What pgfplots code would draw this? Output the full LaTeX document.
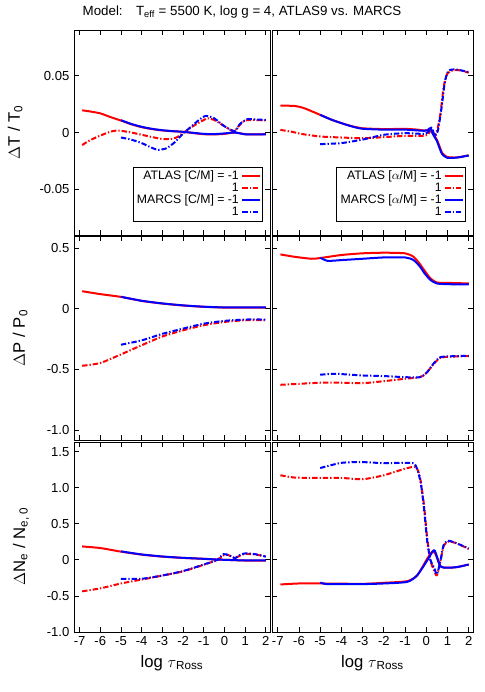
\documentclass[border=0pt]{standalone}
\usepackage{pgfplots}
\pgfplotsset{compat=1.18}
\usepackage{fontspec}
\setmainfont{Liberation Sans}

\pgfplotsset{
  panel/.style={
    scale only axis,
    xmin=-7.27, xmax=2.2,
    xtick={-7,-6,...,2},
    scaled ticks=false,
    tick align=inside,
    xtick pos=both, ytick pos=both,
    major tick length=4pt,
    tick style={black, line width=0.6pt},
    axis line style={line width=0.7pt},
    tick label style={font=\fontsize{9.8}{11}\selectfont},
    label style={font=\fontsize{12.5}{14}\selectfont},
    /pgf/number format/assume math mode=true,
    every axis plot/.append style={smooth, tension=0.4, line join=round},
  },
  atm/.style={red, line width=1.5pt},
  atp/.style={red, line width=1.5pt, dash pattern=on 4pt off 1.5pt on 1pt off 1.5pt},
  mam/.style={blue, line width=1.5pt},
  map/.style={blue, line width=1.5pt, dash pattern=on 4pt off 1.5pt on 1pt off 1.5pt},
  leg/.style={
    legend plot pos=right,
    legend cell align=right,
    legend style={at={(axis description cs:0.962,0.063)}, anchor=south east,
      font=\fontsize{9.2}{9.2}\selectfont, draw=black, line width=0.6pt,
      inner sep=1pt, row sep=-3pt},
    legend image code/.code={\draw[##1, sharp plot] (0pt,0pt) -- (13pt,0pt);},
  },
}

\begin{document}
\begin{tikzpicture}
\path[use as bounding box] (0pt,0pt) rectangle (363.75pt,-519pt);
\node[font=\fontsize{10}{11}\selectfont] at (181.5pt,-9pt)
  {Model:\quad T\textsubscript{eff} = 5500 K, log g = 4, ATLAS9 vs. MARCS};

% ---- Delta T, [C/M]
\begin{axis}[panel, leg, at={(55.5pt,-22.5pt)}, anchor=north west,
  width=147pt, height=153.75pt,
  ymin=-0.09, ymax=0.09, ytick={-0.05,0,0.05}, yticklabels={-0.05,0,0.05},
  xticklabels={},
  ylabel={$\Delta$T / T\textsubscript{0}},
  ylabel style={at={(axis description cs:-0.30,0.5)}, anchor=center}]
\addplot[atm] coordinates {(-6.875,0.0195) (-6.5,0.0185) (-6,0.0168) (-5.5,0.0135) (-5,0.0105) (-4.5,0.0072) (-4,0.0047) (-3.5,0.003) (-3,0.0018) (-2.5,0.0011) (-2,0.0006) (-1.5,-0.0005) (-1,-0.0015) (-0.5,-0.0017) (0,-0.0012) (0.5,0) (1,-0.0015) (1.5,-0.0016) (2,-0.0015)};
\addplot[atp] coordinates {(-6.875,-0.011) (-6.5,-0.0068) (-6,-0.0027) (-5.5,0.0008) (-5.2,0.0017) (-5,0.0015) (-4.5,0) (-4,-0.002) (-3.5,-0.004) (-3,-0.0057) (-2.6,-0.0058) (-2.3,-0.0042) (-2,-0.0005) (-1.5,0.0058) (-1.0,0.011) (-0.8,0.0125) (-0.5,0.011) (0,0.0055) (0.45,0.001) (0.7,0.006) (1,0.0105) (1.5,0.011) (2,0.0105)};
\addplot[mam] coordinates {(-5,0.0108) (-4.5,0.0075) (-4,0.005) (-3.5,0.0032) (-3,0.002) (-2.5,0.0012) (-2,0.0006) (-1.5,-0.0003) (-1,-0.0012) (-0.5,-0.0014) (0,-0.0008) (0.5,0) (1,-0.0016) (1.5,-0.0017) (2,-0.0016)};
\addplot[map] coordinates {(-5,-0.0044) (-4.5,-0.0063) (-4,-0.0093) (-3.5,-0.0135) (-3.2,-0.0152) (-2.8,-0.0138) (-2.4,-0.0085) (-2,-0.001) (-1.5,0.0068) (-1.2,0.0115) (-0.9,0.0146) (-0.5,0.0125) (0,0.0055) (0.5,0.0012) (0.75,0.0075) (1.1,0.0117) (1.5,0.0115) (2,0.011)};
\legend{ATLAS [C/M] = -1, 1, MARCS [C/M] = -1, 1}
\end{axis}

% ---- Delta T, [alpha/M]
\begin{axis}[panel, leg, at={(204pt,-22.5pt)}, anchor=north west,
  width=150.75pt, height=153.75pt,
  ymin=-0.09, ymax=0.09, ytick={-0.05,0,0.05}, yticklabels={},
  xticklabels={}]
\addplot[atm] coordinates {(-6.875,0.0236) (-6.2,0.0233) (-5.75,0.0213) (-5,0.0155) (-4.5,0.0115) (-4,0.0082) (-3.5,0.0055) (-3,0.0037) (-2,0.003) (-1,0.0032) (-0.4,0.0025) (-0.1,0.0017) (0.15,0.0022) (0.3,-0.0005) (0.5,-0.0064) (0.62,-0.012) (0.75,-0.018) (0.98,-0.0215) (1.45,-0.0219) (2,-0.020)};
\addplot[atp] coordinates {(-6.875,0.0023) (-6.3,0.0005) (-5.9,-0.0012) (-5,-0.0035) (-4,-0.0044) (-3,-0.005) (-2,-0.0041) (-1,-0.0029) (-0.1,-0.0029) (0.1,-0.0012) (0.25,0.003) (0.4,-0.003) (0.55,0.005) (0.67,0.0169) (0.82,0.0402) (1.0,0.052) (1.3,0.0548) (1.6,0.0545) (2,0.0525)};
\addplot[mam] coordinates {(-5,0.0155) (-4.5,0.0115) (-4,0.0082) (-3.5,0.0053) (-3,0.0033) (-2,0.0025) (-1,0.0025) (-0.4,0.0018) (-0.1,0.0015) (0.05,0.002) (0.2,0.004) (0.3,-0.001) (0.5,-0.0075) (0.62,-0.0135) (0.75,-0.019) (0.98,-0.0222) (1.45,-0.022) (2,-0.0202)};
\addplot[map] coordinates {(-5,-0.0102) (-4,-0.0093) (-3,-0.0062) (-2,-0.002) (-1,-0.0006) (-0.1,-0.0012) (0.1,0.0009) (0.25,0.0044) (0.4,-0.0029) (0.55,0.002) (0.72,0.022) (0.88,0.045) (1.05,0.0542) (1.4,0.0554) (2,0.053)};
\legend{ATLAS [$\alpha$/M] = -1, 1, MARCS [$\alpha$/M] = -1, 1}
\end{axis}

% ---- Delta P, [C/M]
\begin{axis}[panel, at={(55.5pt,-177pt)}, anchor=north west,
  width=147pt, height=153pt,
  ymin=-1.083, ymax=0.602, ytick={-1,-0.5,0,0.5}, yticklabels={-1.0,-0.5,0,0.5},
  xticklabels={},
  ylabel={$\Delta$P / P\textsubscript{0}},
  ylabel style={at={(axis description cs:-0.275,0.5)}, anchor=center}]
\addplot[atm] coordinates {(-6.875,0.146) (-6,0.122) (-5,0.099) (-4,0.066) (-3,0.044) (-2,0.028) (-1,0.017) (0,0.011) (1,0.011) (2,0.011)};
\addplot[atp] coordinates {(-6.875,-0.47) (-6,-0.447) (-5,-0.376) (-4,-0.30) (-3,-0.228) (-2,-0.177) (-1,-0.135) (0,-0.108) (1,-0.094) (2,-0.094)};
\addplot[mam] coordinates {(-5,0.1) (-4,0.067) (-3,0.045) (-2,0.029) (-1,0.018) (0,0.012) (1,0.012) (2,0.012)};
\addplot[map] coordinates {(-5,-0.296) (-4,-0.26) (-3,-0.206) (-2,-0.163) (-1,-0.122) (0,-0.099) (1,-0.088) (2,-0.088)};
\end{axis}

% ---- Delta P, [alpha/M]
\begin{axis}[panel, at={(204pt,-177pt)}, anchor=north west,
  width=150.75pt, height=153pt,
  ymin=-1.083, ymax=0.602, ytick={-1,-0.5,0,0.5}, yticklabels={},
  xticklabels={}]
\addplot[atm] coordinates {(-6.875,0.45) (-6.2,0.43) (-5.4,0.414) (-5,0.42) (-4,0.445) (-3,0.459) (-2,0.464) (-1,0.459) (-0.6,0.43) (-0.3,0.37) (-0.1,0.32) (0.2,0.251) (0.5,0.218) (1,0.215) (2,0.21)};
\addplot[atp] coordinates {(-6.875,-0.627) (-6,-0.619) (-5,-0.61) (-4,-0.61) (-3,-0.614) (-2,-0.597) (-1,-0.577) (-0.3,-0.564) (0,-0.53) (0.35,-0.455) (0.65,-0.405) (1.1,-0.395) (2,-0.39)};
\addplot[mam] coordinates {(-5,0.423) (-4.65,0.397) (-4,0.403) (-3,0.414) (-2,0.425) (-1,0.425) (-0.6,0.403) (-0.3,0.35) (-0.1,0.298) (0.2,0.238) (0.5,0.21) (1,0.204) (2,0.202)};
\addplot[map] coordinates {(-5,-0.544) (-4.3,-0.536) (-3,-0.55) (-2,-0.555) (-1,-0.564) (-0.3,-0.564) (0,-0.53) (0.35,-0.45) (0.65,-0.4) (1.1,-0.392) (2,-0.387)};
\end{axis}

% ---- Delta Ne, [C/M]
\begin{axis}[panel, at={(55.5pt,-331.5pt)}, anchor=north west,
  width=147pt, height=142.5pt,
  ymin=-1.0, ymax=1.634, ytick={-1,-0.5,0,0.5,1,1.5}, yticklabels={-1.0,-0.5,0,0.5,1.0,1.5},
  xticklabels={-7,-6,-5,-4,-3,-2,-1,0,1,2},
  xlabel={log $\tau$\textsubscript{Ross}},
  ylabel={$\Delta$N\textsubscript{e} / N\textsubscript{e, 0}},
  ylabel style={at={(axis description cs:-0.27,0.45)}, anchor=center}]
\addplot[atm] coordinates {(-6.875,0.186) (-6,0.164) (-5,0.114) (-4,0.073) (-3,0.045) (-2,0.027) (-1,0.014) (-0.4,0.005) (0.1,0) (1,-0.009) (2,-0.009)};
\addplot[atp] coordinates {(-6.875,-0.436) (-6,-0.395) (-5,-0.327) (-4,-0.273) (-3,-0.218) (-2,-0.159) (-1,-0.068) (-0.35,0) (0,0.07) (0.25,0.06) (0.5,0.023) (0.75,0.06) (1,0.082) (1.5,0.075) (2,0.045)};
\addplot[mam] coordinates {(-5,0.118) (-4,0.075) (-3,0.047) (-2,0.028) (-1,0.015) (-0.4,0.005) (0.1,0) (1,-0.008) (2,-0.008)};
\addplot[map] coordinates {(-5,-0.264) (-4,-0.262) (-3,-0.216) (-2,-0.155) (-1,-0.064) (-0.35,0) (-0.05,0.08) (0.25,0.06) (0.5,0.023) (0.75,0.068) (1,0.09) (1.5,0.078) (2,0.045)};
\end{axis}

% ---- Delta Ne, [alpha/M]
\begin{axis}[panel, at={(204pt,-331.5pt)}, anchor=north west,
  width=150.75pt, height=142.5pt,
  ymin=-1.0, ymax=1.634, ytick={-1,-0.5,0,0.5,1,1.5}, yticklabels={},
  xticklabels={-7,-6,-5,-4,-3,-2,-1,0,1,2},
  xlabel={log $\tau$\textsubscript{Ross}}]
\addplot[atm] coordinates {(-6.875,-0.341) (-6,-0.327) (-5,-0.327) (-3,-0.332) (-2,-0.318) (-0.9,-0.295) (-0.43,-0.214) (0.04,0.014) (0.28,0.114) (0.43,0.082) (0.67,-0.091) (0.98,-0.109) (1.45,-0.1) (2,-0.064)};
\addplot[atp] coordinates {(-6.875,1.173) (-6.2,1.141) (-5,1.136) (-4,1.136) (-3,1.118) (-2,1.173) (-1,1.264) (-0.5,1.286) (-0.3,1.15) (-0.11,0.764) (0.04,0.309) (0.2,-0.009) (0.36,-0.145) (0.5,-0.214) (0.67,-0.009) (0.82,0.195) (1.05,0.255) (1.45,0.227) (2,0.15)};
\addplot[mam] coordinates {(-5,-0.314) (-4.65,-0.336) (-3,-0.336) (-2,-0.327) (-0.9,-0.305) (-0.43,-0.214) (0.04,-0.009) (0.36,0.136) (0.51,0.036) (0.67,-0.091) (0.98,-0.109) (1.45,-0.1) (2,-0.064)};
\addplot[map] coordinates {(-5,1.273) (-4,1.345) (-3,1.355) (-2,1.341) (-0.75,1.345) (-0.5,1.309) (-0.27,1.082) (-0.11,0.718) (0.04,0.264) (0.2,-0.009) (0.36,-0.1) (0.5,-0.2) (0.67,-0.009) (0.82,0.209) (1.05,0.264) (1.45,0.227) (2,0.159)};
\end{axis}
\end{tikzpicture}
\end{document}
